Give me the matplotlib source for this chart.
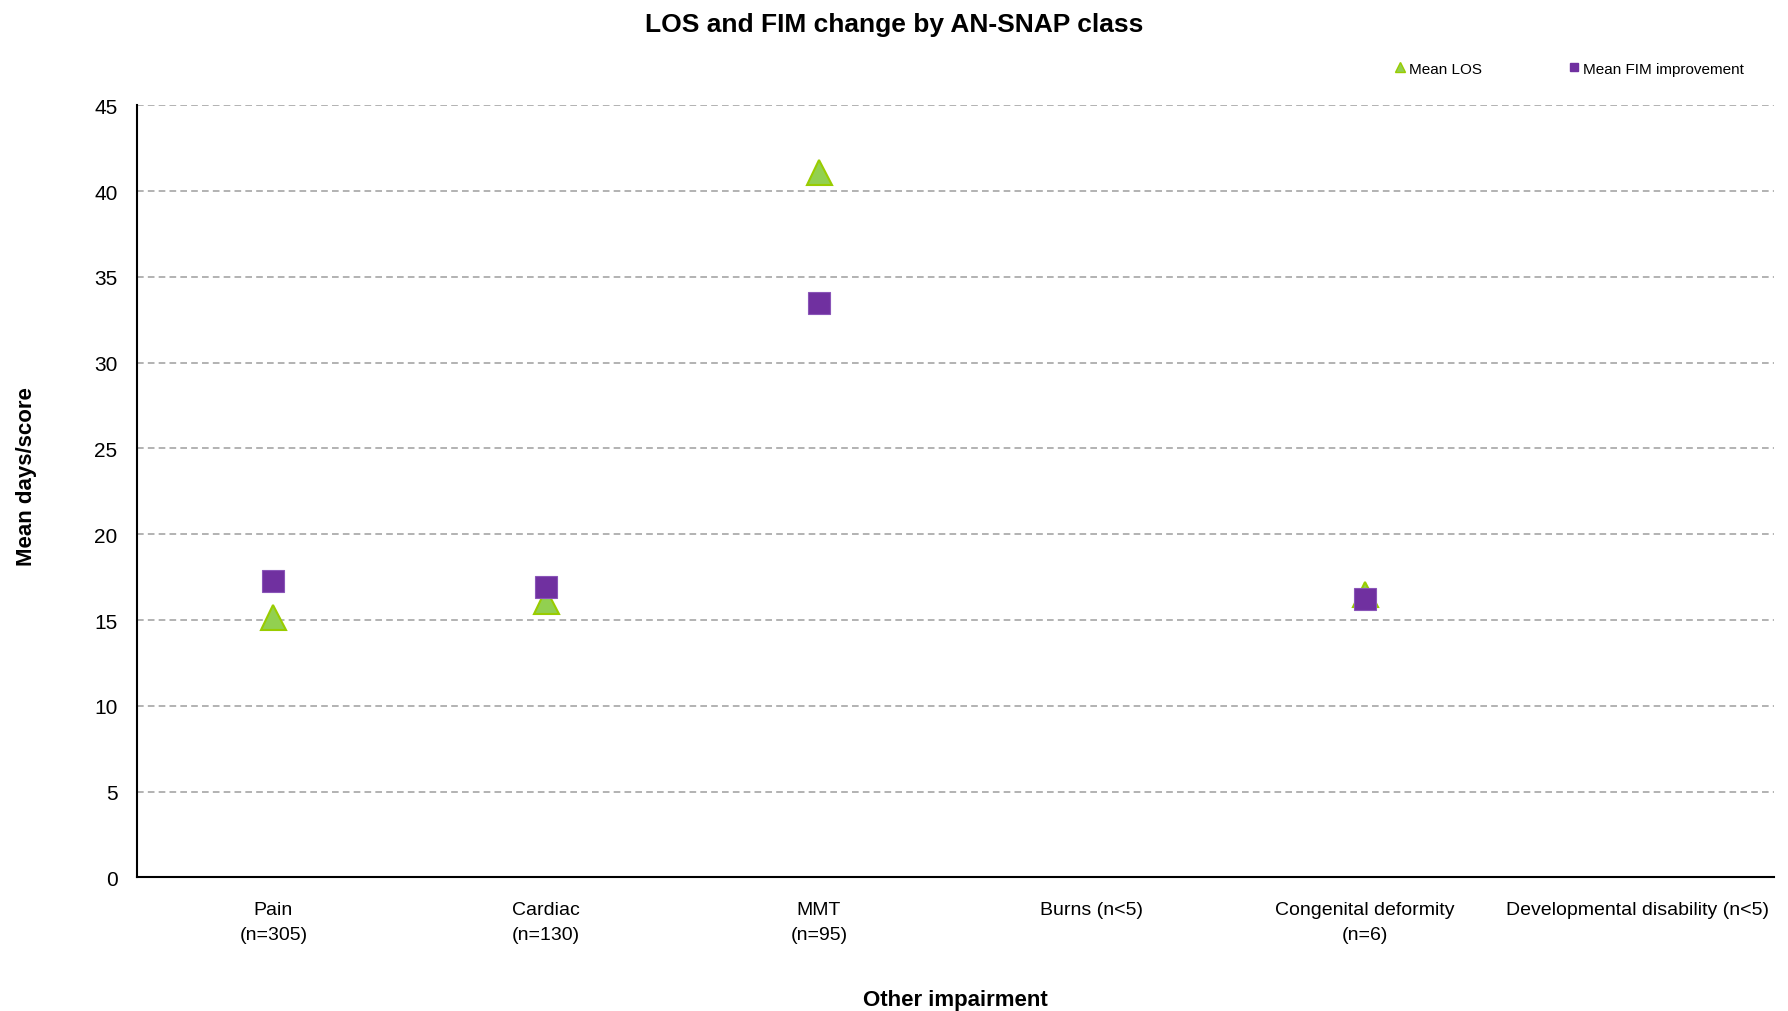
import matplotlib
matplotlib.use("Agg")
import matplotlib.pyplot as plt
from matplotlib.lines import Line2D

plt.rcParams['font.family'] = ['Liberation Sans Narrow', 'Liberation Sans', 'DejaVu Sans']

# data
categories = ['Pain\n(n=305)', 'Cardiac\n(n=130)', 'MMT\n(n=95)', 'Burns (n<5)',
              'Congenital deformity\n(n=6)', 'Developmental disability (n<5)']
mean_los = [15.2, 16.1, 41.1, None, 16.5, None]
mean_fim = [17.3, 16.9, 33.5, None, 16.2, None]

green_fill = '#92D050'
green_edge = '#99CC00'
purple = '#7030A0'

fig = plt.figure(figsize=(17.88, 10.12), dpi=100)
ax = fig.add_axes([0.0766, 0.132, 0.9154, 0.763])

x = list(range(len(categories)))
los_x = [i for i, v in zip(x, mean_los) if v is not None]
los_y = [v for v in mean_los if v is not None]
fim_x = [i for i, v in zip(x, mean_fim) if v is not None]
fim_y = [v for v in mean_fim if v is not None]

ax.plot(los_x, los_y, linestyle='none', marker='^', markersize=18,
        markerfacecolor=green_fill, markeredgecolor=green_edge, markeredgewidth=1.5, zorder=3)
ax.plot(fim_x, fim_y, linestyle='none', marker='s', markersize=16,
        markerfacecolor=purple, markeredgecolor='#8A55B8', markeredgewidth=0.8, zorder=4)

ax.set_xlim(-0.5, len(categories) - 0.5)
ax.set_ylim(0, 45)
ax.set_yticks(range(0, 46, 5))
ax.set_xticks(x)
ax.set_xticklabels(categories, fontsize=14, linespacing=1.65)
ax.tick_params(axis='y', labelsize=15, length=0, pad=14)
ax.tick_params(axis='x', length=0, pad=17)
ax.yaxis.grid(True, linestyle=(0, (4, 2.5)), color='#A6A6A6', linewidth=1.2)
ax.set_axisbelow(True)
for s in ['top', 'right']:
    ax.spines[s].set_visible(False)
for s in ['left', 'bottom']:
    ax.spines[s].set_linewidth(1.5)
    ax.spines[s].set_color('black')

ax.set_ylabel('Mean days/score', fontsize=16, fontweight='bold')
ax.yaxis.set_label_coords(-0.061, 0.52)
ax.set_xlabel('Other impairment', fontsize=16, fontweight='bold', labelpad=33)
fig.suptitle('LOS and FIM change by AN-SNAP class', fontsize=19, fontweight='bold', y=0.987)

handles = [
    Line2D([], [], linestyle='none', marker='^', markersize=7,
           markerfacecolor=green_fill, markeredgecolor=green_edge, label='Mean LOS'),
    Line2D([], [], linestyle='none', marker='s', markersize=6,
           markerfacecolor=purple, markeredgecolor=purple, label='Mean FIM improvement'),
]
fig.legend(handles=handles, loc='center right', bbox_to_anchor=(0.983, 0.931), ncol=2,
           frameon=False, fontsize=11, handletextpad=0.1, columnspacing=5.5, handlelength=1)

fig.savefig('out.png', dpi=100)
